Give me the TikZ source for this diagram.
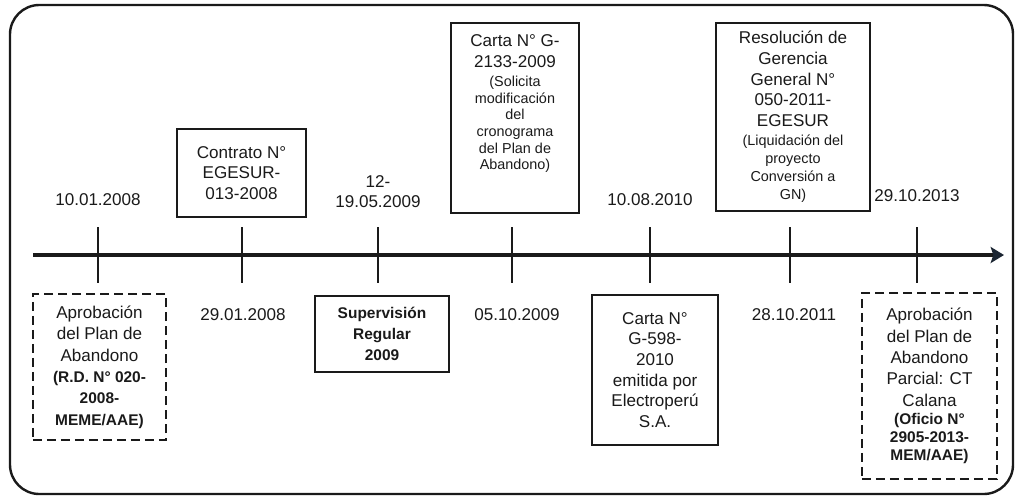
\documentclass[tikz,border=0pt]{standalone}
\usepackage{fontspec}
\setmainfont{Liberation Sans}
\usepackage{xcolor}
\usetikzlibrary{arrows.meta}
\definecolor{tdark}{HTML}{1a1a1a}
\definecolor{tnavy}{HTML}{1c2633}
\newcommand{\sm}{\fontsize{10.8}{12.6}\selectfont}
\newcommand{\smb}{\fontsize{11.6}{13}\selectfont\bfseries}

\begin{document}
\begin{tikzpicture}[x=0.75pt, y=-0.75pt,
		datetext/.style={font=\fontsize{12.8}{15}\selectfont, align=center, text=tdark, inner sep=0pt},
		eventbox/.style={draw=tdark, line width=1.5pt, align=center, inner sep=0pt, text=tdark, font=\fontsize{12.8}{15.5}\selectfont},
		dashbox/.style={eventbox, line width=1.8pt, dash pattern=on 7pt off 3.5pt, font=\fontsize{12.8}{16}\selectfont},
		tick/.style={color=tdark, line width=1.5pt}]
		\useasboundingbox (0,0) rectangle (1016,497);
		\draw[color=tdark, line width=1.8pt, rounded corners=22pt] (10,5) rectangle (1013,494);
		% time axis
		\coordinate (start) at (33,255);
		\coordinate (end)   at (1004,255);
		\draw[color=tdark, line width=3pt, -{Stealth[length=10pt, width=12pt, inset=2pt, color=tnavy]}] (start) -- (end);
		\coordinate (t1) at (98,255);
		\coordinate (t2) at (242,255);
		\coordinate (t3) at (378,255);
		\coordinate (t4) at (512,255);
		\coordinate (t5) at (650,255);
		\coordinate (t6) at (790,255);
		\coordinate (t7) at (917,255);
		\foreach \t in {t1,t2,t3,t4,t5,t6,t7}
			\draw[tick] ([yshift=21pt]\t) -- ([yshift=-21pt]\t);
		% above the axis
		\node[datetext] (d1) at (98,200) {10.01.2008};
		\node[eventbox, minimum width=96.8pt, minimum height=66pt] (b2) at (241.5,173) {Contrato N°\\EGESUR-\\013-2008};
		\node[datetext] (d3) at (378,192) {12-\\19.05.2009};
		\node[eventbox, minimum width=96pt, minimum height=142.5pt] (b4) at (515,118)
			{Carta N° G-\\2133-2009\\[-1pt]\sm (Solicita\\[-3pt]\sm modificación\\[-3pt]\sm del\\[-3pt]\sm cronograma\\[-3pt]\sm del Plan de\\[-3pt]\sm Abandono)\\[8pt]\mbox{}};
		\node[datetext] (d5) at (650,200) {10.08.2010};
		\node[eventbox, minimum width=115.5pt, minimum height=141pt] (b6) at (793,117)
			{Resolución de\\Gerencia\\General N°\\050-2011-\\EGESUR\\[-1pt]\sm (Liquidación del\\[-2pt]\sm proyecto\\[-2pt]\sm Conversión a\\[-2pt]\sm GN)};
		\node[datetext] (d7) at (917,196) {29.10.2013};
		% below the axis
		\node[dashbox, minimum width=99.8pt, minimum height=109.5pt] (b1) at (99.5,367)
			{Aprobación\\del Plan de\\Abandono\\\smb (R.D. N° 020-\\\smb 2008-\\\smb MEME/AAE)};
		\node[datetext] (d2) at (243,315) {29.01.2008};
		\node[eventbox, minimum width=100.5pt, minimum height=57pt] (b3) at (382,334)
			{\smb Supervisión\\\smb Regular\\\smb 2009};
		\node[datetext] (d4) at (517,315) {05.10.2009};
		\node[eventbox, minimum width=94.5pt, minimum height=112.5pt] (b5) at (655,370)
			{Carta N°\\G-598-\\2010\\emitida por\\Electroperú\\S.A.};
		\node[datetext] (d6) at (794,315) {28.10.2011};
		\node[dashbox, minimum width=101.3pt, minimum height=139.5pt] (b7) at (929.5,386)
			{Aprobación\\del Plan de\\Abandono\\Parcial: CT\\Calana\\[-2pt]\smb (Oficio N°\\[-2.5pt]\smb 2905-2013-\\[-2.5pt]\smb MEM/AAE)};
	\end{tikzpicture}
\end{document}
